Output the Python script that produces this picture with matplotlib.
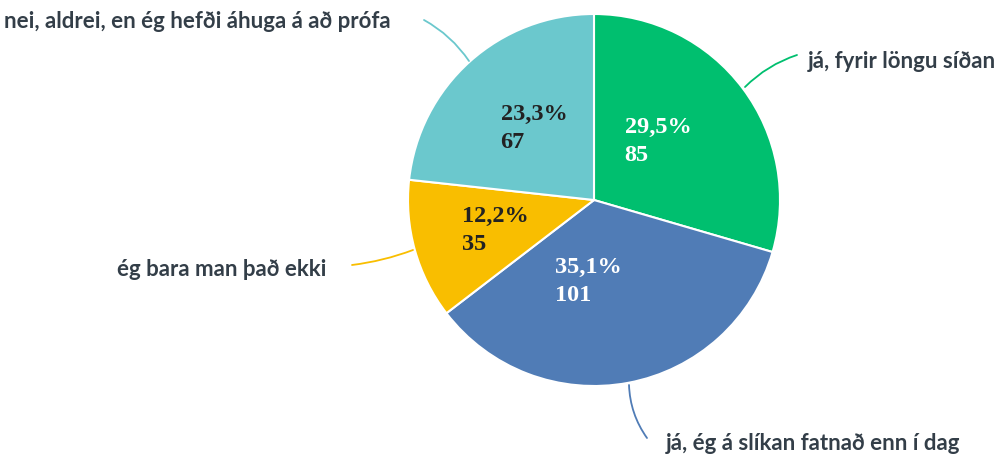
import numpy as np
import matplotlib
matplotlib.use('Agg')
import matplotlib.pyplot as plt

# Survey answers (Icelandic)
categories = ['já, fyrir löngu síðan', 'já, ég á slíkan fatnað enn í dag',
              'ég bara man það ekki', 'nei, aldrei, en ég hefði áhuga á að prófa']
counts = [85, 101, 35, 67]
percent_labels = ['29,5%', '35,1%', '12,2%', '23,3%']
colors = ['#00BF6F', '#507CB6', '#F9BE00', '#6BC8CD']
value_colors = ['white', 'white', '#222222', '#222222']

W, H = 1006, 454
fig = plt.figure(figsize=(W / 100, H / 100), dpi=100)
ax = fig.add_axes([0, 0, 1, 1])

# work in pixel units, y measured upwards
cx, cy, R = 594, H - 200, 186
wedges, _ = ax.pie(counts, colors=colors, startangle=90, counterclock=False,
                   center=(cx, cy), radius=R, frame=True,
                   wedgeprops=dict(edgecolor='white', linewidth=1.5))
ax.set_xlim(0, W)
ax.set_ylim(0, H)
ax.axis('off')

# value labels inside the slices
label_r = [0.47, 0.46, 0.55, 0.50]
label_shift = [(-6, 6), (-21, 3), (0, -3), (2, 2)]
for w, pct, n, col, r, sh in zip(wedges, percent_labels, counts,
                                 value_colors, label_r, label_shift):
    mid = np.deg2rad((w.theta1 + w.theta2) / 2)
    x = cx + r * R * np.cos(mid) + sh[0]
    y = cy + r * R * np.sin(mid) + sh[1]
    ax.text(x, y, pct + '\n' + str(n), ha='center', va='center',
            multialignment='left', color=col, fontsize=17.5,
            family='Liberation Serif', fontweight='bold', linespacing=1.45)

# outside labels and curved leader lines
text_color = '#333E48'
label_pos = [(808, H - 62, 'left'), (666, H - 443, 'left'),
             (326, H - 270, 'right'), (391, H - 22, 'right')]
leaders = [((797, H - 55), (745, H - 87), 0.12),
           ((647, H - 438), (629, H - 385), -0.15),
           ((352, H - 265), (413, H - 250), 0.06),
           ((424, H - 20), (469, H - 61), -0.12)]
for cat, col, (tx, ty, ha), (a, b, rad) in zip(categories, colors,
                                                label_pos, leaders):
    ax.text(tx, ty, cat, ha=ha, va='center', color=text_color,
            fontsize=16, family='Lato', fontweight='bold')
    ax.annotate('', xy=b, xytext=a,
                arrowprops=dict(arrowstyle='-', color=col, lw=1.3,
                                shrinkA=0, shrinkB=0,
                                connectionstyle='arc3,rad=%s' % rad))

fig.savefig('out.png', dpi=100)
